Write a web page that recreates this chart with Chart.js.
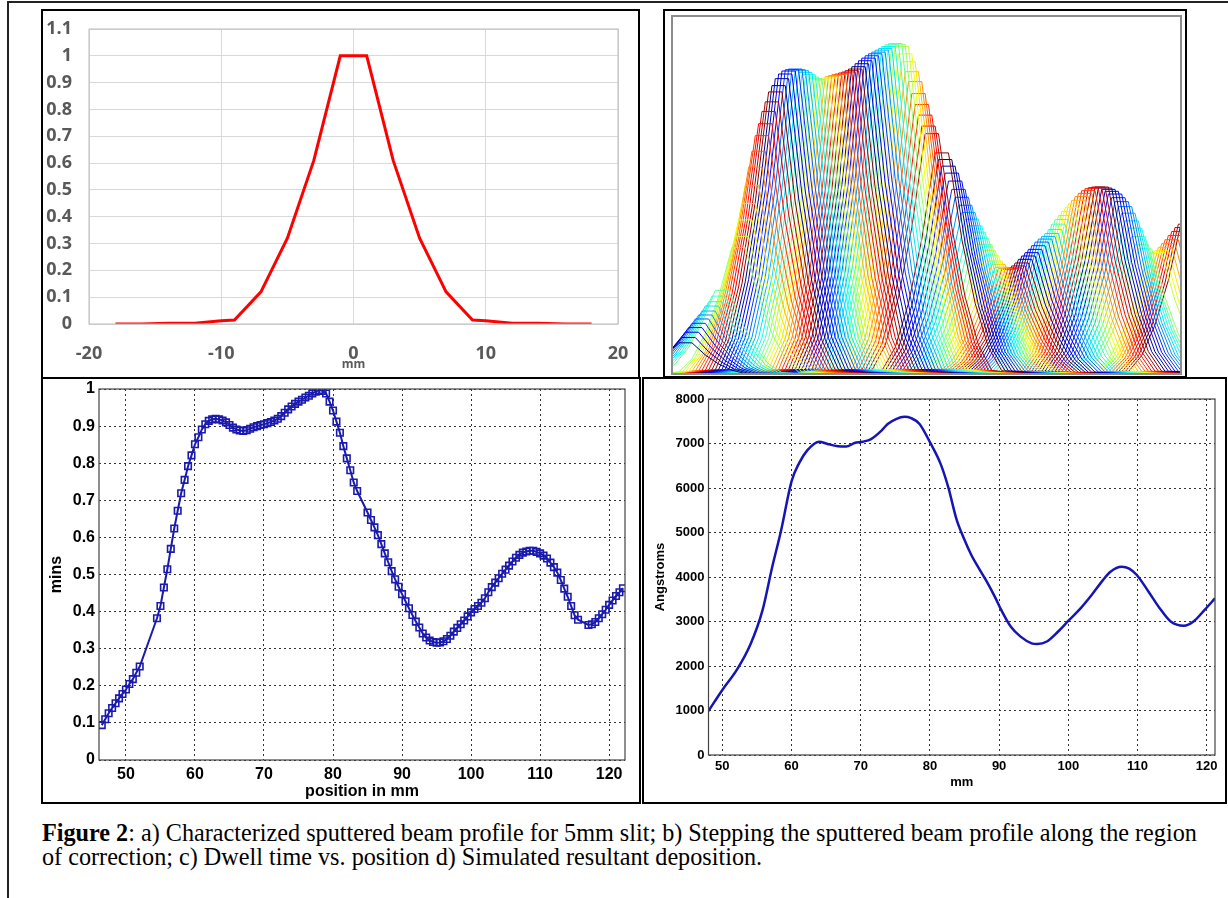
<!DOCTYPE html>
<html><head><meta charset="utf-8">
<script src="https://cdn.jsdelivr.net/npm/chart.js@4.4.1/dist/chart.umd.min.js"></script>
<style>
html,body{margin:0;padding:0;background:#fff;width:1228px;height:898px;overflow:hidden;}
.abs{position:absolute;}
.box{position:absolute;border:2px solid #000;box-sizing:border-box;}
#caption{position:absolute;left:42px;top:821px;width:1172px;font-family:"Liberation Serif","Times New Roman",serif;font-size:24.2px;line-height:24px;color:#000;}
</style></head><body>
<div class="abs" style="left:7px;top:1px;width:1230px;height:900px;border-top:2px solid #222;border-left:2px solid #222;"></div>
<div class="box" style="left:41px;top:9px;width:599px;height:370px"></div>
<div class="box" style="left:663px;top:9px;width:524px;height:369px"></div>
<div class="box" style="left:41px;top:377px;width:600px;height:427px"></div>
<div class="box" style="left:642px;top:377px;width:585px;height:427px"></div>
<canvas id="ca" class="abs" style="left:44px;top:12px" width="594" height="364"></canvas>
<canvas id="cb" class="abs" style="left:666px;top:12px" width="518" height="363"></canvas>
<canvas id="cc" class="abs" style="left:44px;top:380px" width="594" height="421"></canvas>
<canvas id="cd" class="abs" style="left:645px;top:380px" width="579" height="421"></canvas>
<div id="caption"><b>Figure 2</b>: a) Characterized sputtered beam profile for 5mm slit; b) Stepping the sputtered beam profile along the region of correction; c) Dwell time vs. position d) Simulated resultant deposition.</div>
<script>
// ---- Panel a: beam profile ----
const profileX = [-18,-16,-14,-12,-10,-9,-7,-5,-3,-1,1,3,5,7,9,10,12,14,16,18];
const profileY = [0,0,0.003,0.003,0.012,0.015,0.12,0.32,0.61,1,1,0.61,0.32,0.12,0.015,0.012,0.003,0.003,0,0];
const aXTicks = [-20,-10,0,10,20];
const aYTicks = [0,0.1,0.2,0.3,0.4,0.5,0.6,0.7,0.8,0.9,1,1.1];

// ---- Panel c: dwell time (mins) vs position ----
const dwellX = [46.5,47,47.5,48,48.5,49,49.5,50,50.5,51,51.5,52,
 54.5,55,55.5,56,56.5,57,57.5,58,58.5,59,59.5,60,60.5,61,61.5,62,62.5,63,63.5,64,64.5,65,65.5,66,66.5,67,67.5,68,68.5,69,69.5,70,70.5,71,71.5,72,72.5,73,73.5,74,74.5,75,75.5,76,76.5,77,77.5,78,78.5,79,79.5,80,80.5,81,81.5,82,82.5,83,83.5,
 85,85.5,86,86.5,87,87.5,88,88.5,89,89.5,90,90.5,91,91.5,92,92.5,93,93.5,94,94.5,95,95.5,96,96.5,97,97.5,98,98.5,99,99.5,100,100.5,101,101.5,102,102.5,103,103.5,104,104.5,105,105.5,106,106.5,107,107.5,108,108.5,109,109.5,110,110.5,111,111.5,112,112.5,113,113.5,114,114.5,115,115.5,
 117,117.5,118,118.5,119,119.5,120,120.5,121,121.5,122];
const dwellY = [0.094,0.11,0.126,0.14,0.153,0.166,0.178,0.19,0.205,0.218,0.235,0.252,
 0.382,0.415,0.465,0.514,0.569,0.624,0.672,0.719,0.755,0.792,0.821,0.851,0.87,0.891,0.905,0.914,0.918,0.92,0.918,0.915,0.91,0.903,0.896,0.891,0.888,0.887,0.889,0.893,0.897,0.9,0.903,0.905,0.908,0.911,0.915,0.92,0.927,0.936,0.945,0.953,0.96,0.966,0.971,0.977,0.982,0.988,0.993,0.997,0.995,0.988,0.966,0.942,0.912,0.882,0.846,0.813,0.781,0.748,0.725,
 0.667,0.647,0.627,0.606,0.582,0.557,0.533,0.509,0.487,0.467,0.447,0.428,0.409,0.391,0.373,0.357,0.341,0.33,0.322,0.318,0.316,0.317,0.32,0.326,0.335,0.346,0.356,0.366,0.376,0.387,0.398,0.407,0.415,0.424,0.436,0.452,0.466,0.478,0.49,0.502,0.513,0.524,0.535,0.545,0.553,0.559,0.562,0.564,0.564,0.561,0.557,0.551,0.543,0.532,0.52,0.505,0.485,0.462,0.44,0.415,0.39,0.378,
 0.364,0.366,0.372,0.382,0.393,0.405,0.418,0.43,0.442,0.452,0.463];
const cXTicks = [50,60,70,80,90,100,110,120];
const cYTicks = [0,0.1,0.2,0.3,0.4,0.5,0.6,0.7,0.8,0.9,1];

// ---- Panel d: simulated deposition (Angstroms) ----
const depoX = [48,50,52.2,54.1,55.8,57.2,58.5,60,61.1,62.3,64,65.2,66.7,67.9,69.1,70.3,71.5,73,73.9,75.1,76.3,77.3,78.5,80,81.6,82.7,83.8,84.9,86,87.1,88.2,89.5,90.3,91.7,93.1,94.7,95.5,96.9,98.5,100.1,101.8,103.4,105,106.1,107.7,108.8,109.9,111.6,113.2,114.8,116.7,118.1,119.7,121.2];
const depoY = [990,1460,1940,2500,3250,4220,5050,6150,6560,6850,7040,6990,6940,6930,7010,7040,7100,7290,7440,7550,7600,7570,7440,7030,6520,5990,5320,4870,4490,4190,3900,3520,3260,2880,2660,2510,2495,2550,2770,3030,3300,3600,3930,4120,4230,4190,4045,3670,3300,3000,2905,3000,3260,3520];
const dXTicks = [50,60,70,80,90,100,110,120];
const dYTicks = [0,1000,2000,3000,4000,5000,6000,7000,8000];

Chart.defaults.animation = false;
Chart.defaults.responsive = false;
Chart.defaults.events = [];
Chart.defaults.plugins.legend.display = false;
Chart.defaults.plugins.tooltip.enabled = false;

function frame(color, width){
  return {id:'frame', afterDatasetsDraw(chart){
    const {ctx, chartArea:a} = chart;
    ctx.save(); ctx.strokeStyle = color; ctx.lineWidth = width;
    ctx.strokeRect(a.left, a.top, a.right - a.left, a.bottom - a.top);
    ctx.restore();
  }};
}
function setTicks(arr){ return s => { s.ticks = arr.map(v => ({value:v})); }; }
function fitH(h){ return s => { s.height = h; s.paddingLeft = 0; s.paddingRight = 0; }; }
function fitW(w){ return s => { s.width = w; s.paddingTop = 0; s.paddingBottom = 0; }; }
const pts = (xs, ys) => xs.map((x,i) => ({x, y: ys[i]}));

// Panel a
{
  const tf = {family:'"Open Sans", sans-serif', weight:'bold', size:18};
  new Chart(document.getElementById('ca'), {
    type:'line',
    data:{datasets:[{data:pts(profileX, profileY), borderColor:'#ff0000', borderWidth:3, pointRadius:0, tension:0}]},
    options:{
      layout:{padding:{top:17,right:20,left:0,bottom:0}},
      scales:{
        x:{type:'linear', min:-20, max:20, afterBuildTicks:setTicks(aXTicks), afterFit:fitH(52),
           grid:{color:'#d9d9d9', drawTicks:false}, border:{display:false},
           ticks:{padding:19, color:'#595959', font:tf},
           title:{display:true, text:'mm', color:'#595959', font:{family:tf.family, weight:'bold', size:12}, padding:{top:0,bottom:4}}},
        y:{type:'linear', min:0, max:1.1, afterBuildTicks:setTicks(aYTicks), afterFit:fitW(45),
           grid:{color:'#d9d9d9', drawTicks:false}, border:{display:false},
           ticks:{padding:17, color:'#595959', font:tf, callback:v=>String(Math.round(v*10)/10)}}
      }
    },
    plugins:[frame('#bcbcbc',1)]
  });
}

// Panel b: the profile of panel a stepped along the dwell positions of panel c
{
  function jet(t){
    const c = v => Math.round(255*Math.max(0, Math.min(1, v)));
    return `rgb(${c(1.5-Math.abs(4*t-3))},${c(1.5-Math.abs(4*t-2))},${c(1.5-Math.abs(4*t-1))})`;
  }
  const cycle = 24;
  const datasets = dwellX.map((p,i) => ({
    data: profileX.map((dx,j) => ({x: p + dx, y: dwellY[i]*profileY[j]})),
    borderColor: jet((i % cycle)/(cycle-1)), borderWidth:1, pointRadius:0, tension:0
  }));
  new Chart(document.getElementById('cb'), {
    type:'line',
    data:{datasets},
    options:{
      layout:{padding:{top:4,right:3,left:6,bottom:1}},
      scales:{
        x:{type:'linear', min:44.5, max:120.9, display:false},
        y:{type:'linear', min:0, max:1.08, display:false}
      }
    },
    plugins:[frame('#8c8c8c',2)]
  });
}

// Panel c
{
  const tf = {family:'"Liberation Sans", Arial, sans-serif', weight:'bold', size:16};
  const grid = {color:'#333', drawTicks:false, lineWidth:1};
  new Chart(document.getElementById('cc'), {
    type:'line',
    data:{datasets:[{data:pts(dwellX, dwellY), borderColor:'#1a1aad', borderWidth:2, tension:0,
      pointStyle:'rect', pointRadius:4.6, pointBorderWidth:1.6, pointBorderColor:'#1a1aad', pointBackgroundColor:'rgba(0,0,0,0)'}]},
    options:{
      layout:{padding:{top:9,right:13,left:0,bottom:0}},
      scales:{
        x:{type:'linear', min:46.1, max:122.3, afterBuildTicks:setTicks(cXTicks), afterFit:fitH(41),
           grid, border:{display:false, dash:[2,3]},
           ticks:{padding:5, color:'#000', font:tf},
           title:{display:true, text:'position in mm', color:'#000', font:tf, padding:{top:0,bottom:0}}},
        y:{type:'linear', min:0, max:1, afterBuildTicks:setTicks(cYTicks), afterFit:fitW(55),
           grid, border:{display:false, dash:[2,3]},
           ticks:{padding:4, color:'#000', font:tf, callback:v=>String(Math.round(v*10)/10)},
           title:{display:true, text:'mins', color:'#000', font:tf, padding:{top:3,bottom:0}}}
      }
    },
    plugins:[frame('#444',1.2)]
  });
}

// Panel d
{
  const tf = {family:'"Liberation Sans", Arial, sans-serif', weight:'bold', size:13};
  const grid = {color:'#333', drawTicks:false, lineWidth:1};
  new Chart(document.getElementById('cd'), {
    type:'line',
    data:{datasets:[{data:pts(depoX, depoY), borderColor:'#1515b5', borderWidth:2.5, pointRadius:0, cubicInterpolationMode:'monotone'}]},
    options:{
      layout:{padding:{top:19,right:9,left:0,bottom:0}},
      scales:{
        x:{type:'linear', min:48, max:121.2, afterBuildTicks:setTicks(dXTicks), afterFit:fitH(46),
           grid, border:{display:false, dash:[2,3]},
           ticks:{padding:4, color:'#000', font:tf},
           title:{display:true, text:'mm', color:'#000', font:tf, padding:{top:0,bottom:11}}},
        y:{type:'linear', min:0, max:8000, afterBuildTicks:setTicks(dYTicks), afterFit:fitW(63.5),
           grid, border:{display:false, dash:[2,3]},
           ticks:{padding:4, color:'#000', font:tf, callback:v=>String(v)},
           title:{display:true, text:'Angstroms', color:'#000', font:tf, padding:{top:8,bottom:0}}}
      }
    },
    plugins:[frame('#444',1.2)]
  });
}
</script>
</body></html>
